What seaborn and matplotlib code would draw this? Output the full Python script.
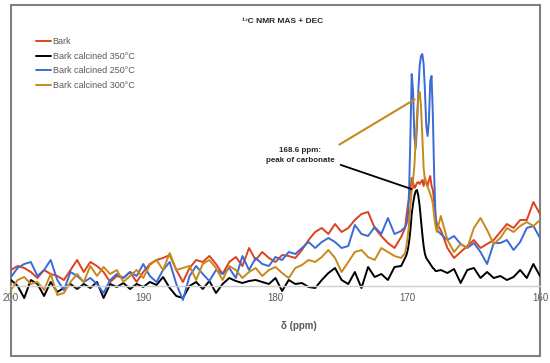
import numpy as np
import pandas as pd
import matplotlib
matplotlib.use("Agg")
import matplotlib.pyplot as plt
import seaborn as sns
from matplotlib.patches import Rectangle

# chemical shift grid (ppm): coarse, fine around the carbonate peak, coarse
ppm = np.round(np.concatenate([np.linspace(200, 170.5, 60),
                               np.linspace(170.2, 167.8, 25),
                               np.linspace(167.5, 160, 16)]), 2)

bark = [16,20,18,14,8,16,12,10,6,16,26,14,24,20,14,4,10,8,14,4,
        14,22,26,28,31,16,4,18,26,24,30,22,12,24,29,20,38,26,34,28,
        24,31,30,28,36,46,54,58,52,62,54,58,66,72,74,58,50,43,38,49,
        58,70,80,88,95,108,104,98,100,103,104,102,104,106,100,108,104,100,106,110,100,96,84,70,62,
        56,38,28,34,40,46,38,42,46,54,62,58,66,66,84,72]

bark_350 = [6,0,-12,6,2,-10,4,-6,-2,2,-3,2,-2,4,-12,2,-1,3,-3,2,
            -1,4,1,9,-2,-10,-12,0,4,-3,5,-7,2,8,5,3,5,6,4,2,
            8,-5,6,2,3,-1,-2,6,13,18,6,2,14,-2,19,9,12,6,19,20,
            28,31,36,44,56,72,82,90,95,96,90,80,66,52,40,32,28,26,24,22,20,18,17,15,15,
            16,13,17,3,16,18,8,14,8,10,6,9,16,8,22,10]

bark_250 = [9,18,22,24,10,16,26,6,-4,14,10,4,8,2,-7,6,12,8,14,10,
            22,10,4,16,24,2,-14,10,20,12,5,16,12,18,8,30,16,28,22,20,
            29,26,34,32,38,44,38,44,48,44,38,40,61,52,50,59,52,68,52,55,
            59,62,66,95,150,212,195,150,138,160,195,220,230,232,222,195,160,150,165,205,210,170,110,70,56,
            52,46,50,42,38,43,34,22,43,43,46,36,44,58,60,48]

bark_300 = [-4,6,9,2,4,-4,12,-9,-7,4,12,4,20,10,19,12,16,4,10,16,
            8,21,26,16,33,16,18,20,6,22,26,18,6,20,16,8,14,18,10,16,
            19,13,8,18,21,26,24,29,36,28,14,24,34,36,29,26,38,34,30,28,
            33,40,50,62,80,96,106,120,145,170,188,194,180,150,118,106,102,99,96,92,88,82,70,60,54,
            70,46,34,42,38,58,68,56,42,48,58,54,60,64,60,66]

labels = ["Bark", "Bark calcined 350°C", "Bark calcined 250°C", "Bark calcined 300°C"]
colors = ["#E0401E", "#000000", "#3B6BD6", "#C8891C"]

df = pd.concat([pd.DataFrame({"ppm": ppm, "intensity": vals, "sample": lab})
                for vals, lab in zip([bark, bark_350, bark_250, bark_300], labels)])

sns.set_style("white")
plt.rcParams["font.family"] = ["Liberation Sans", "DejaVu Sans"]

fig = plt.figure(figsize=(5.5, 3.63), dpi=100)
ax = fig.add_axes([11/550, 7/363, 529/550, 351/363])

sns.lineplot(data=df, x="ppm", y="intensity", hue="sample", hue_order=labels,
             palette=colors, sort=False, estimator=None, linewidth=1.4, ax=ax)

ax.set_xlim(200, 160)
ax.set_ylim(-70, 281)
ax.set_xticks([200, 190, 180, 170, 160])
ax.set_yticks([])
ax.tick_params(axis="x", length=0, pad=5, labelsize=7, labelcolor="#595959")
for t in ax.get_xticklabels():
    t.set_fontweight("bold")

for s in ["left", "right", "top"]:
    ax.spines[s].set_visible(False)
ax.spines["bottom"].set_position(("data", 0))
ax.spines["bottom"].set_color("#D0D0D0")
ax.spines["bottom"].set_linewidth(1.0)
ax.add_patch(Rectangle((0, 0), 1, 1, transform=ax.transAxes, fill=False,
                       edgecolor="#808080", linewidth=1.5, clip_on=False))

ax.set_ylabel("")
ax.set_xlabel("δ (ppm)", fontsize=7, fontweight="bold", color="#595959")
ax.xaxis.set_label_coords(0.544, 0.1)

ax.set_title("¹³C NMR MAS + DEC", fontsize=6, fontweight="bold", x=0.514, y=0.95, pad=0)

ax.annotate("", xy=(169.3, 188), xytext=(175.35, 140),
            arrowprops=dict(arrowstyle="-", color="#C8891C", lw=1.5))
ax.annotate("", xy=(169.5, 96), xytext=(175.27, 122),
            arrowprops=dict(arrowstyle="-", color="black", lw=1.3))
ax.text(178.15, 130.5, "168.6 ppm:\npeak of carbonate", ha="center", va="center",
        fontsize=5.8, fontweight="bold", linespacing=1.75)

sns.move_legend(ax, "upper left", bbox_to_anchor=(0.048, 0.908), frameon=False,
                title=None, fontsize=6.5, labelcolor="#595959", handlelength=1.6,
                handletextpad=0.2, labelspacing=0.62, borderaxespad=0, borderpad=0)

fig.savefig("out.png", dpi=100)
